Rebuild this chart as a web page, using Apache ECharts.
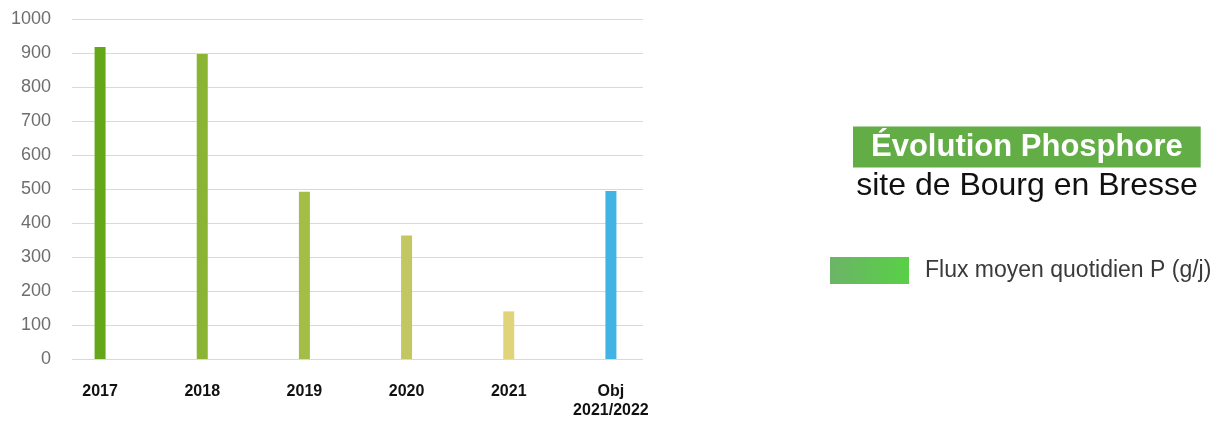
<!DOCTYPE html>
<html><head><meta charset="utf-8">
<script src="https://cdn.jsdelivr.net/npm/echarts@6/dist/echarts.min.js"></script>
<style>html,body{margin:0;padding:0;background:#fff}#c{width:1224px;height:428px}</style>
</head><body><div id="c"></div>
<script>
const categories = ['2017', '2018', '2019', '2020', '2021', 'Obj\n2021/2022'];
const values = [918, 897, 492, 363, 140, 494];
const barColors = ['#66a61a', '#8ab431', '#a4bd46', '#c3c761', '#e0d37a', '#41b3e5'];
const yTicks = [0, 100, 200, 300, 400, 500, 600, 700, 800, 900, 1000];
const seriesName = 'Flux moyen quotidien P (g/j)';
const titleText = 'Évolution Phosphore';
const subtitleText = 'site de Bourg en Bresse';

const chart = echarts.init(document.getElementById('c'));
chart.setOption({
  animation: false,
  backgroundColor: '#fff',
  title: [
    { text: titleText, left: 853, top: 127,
      backgroundColor: '#62ad45', padding: [5, 18, 5, 18],
      textStyle: { color: '#fff', fontSize: 31, fontWeight: 'bold', fontFamily: 'Liberation Sans', lineHeight: 30 } },
    { text: subtitleText, left: 1027, top: 169, textAlign: 'center', padding: 0,
      textStyle: { color: '#111', fontSize: 32, fontWeight: 'normal', fontFamily: 'Liberation Sans', lineHeight: 34 } }
  ],
  legend: {
    left: 830, top: 257, padding: 0, itemWidth: 79, itemHeight: 27,
    icon: 'rect',
    data: [seriesName],
    textStyle: { fontSize: 23, color: '#3a3a3a', fontFamily: 'Liberation Sans', padding: [0, 0, 0, 11] }
  },
  grid: [
    { left: 49, right: 1224 - 662, top: 19, bottom: 428 - 359, containLabel: false },
    { left: 72, right: 1224 - 643, top: 19, bottom: 428 - 359, containLabel: false }
  ],
  xAxis: [
    { type: 'category', gridIndex: 0, data: categories,
      axisLine: { show: false }, axisTick: { show: false },
      axisLabel: { interval: 0, margin: 23, color: '#111', fontSize: 16, fontWeight: 'bold',
        fontFamily: 'Liberation Sans', lineHeight: 19 } },
    { type: 'value', gridIndex: 1, min: 0, max: 1, show: false }
  ],
  yAxis: [
    { type: 'value', gridIndex: 0, min: 0, max: 1000, interval: 100, show: false },
    { type: 'value', gridIndex: 1, min: yTicks[0], max: yTicks[yTicks.length - 1], interval: 100,
      axisLine: { show: false }, axisTick: { show: false },
      splitLine: { lineStyle: { color: '#d9d9d9', width: 1 } },
      axisLabel: { margin: 21, color: '#6e6e6e', fontSize: 18, fontFamily: 'Liberation Sans',
        formatter: v => String(v) } }
  ],
  series: [{
    name: seriesName, type: 'bar', xAxisIndex: 0, yAxisIndex: 0, barWidth: 11, z: 3,
    itemStyle: { color: new echarts.graphic.LinearGradient(0, 0, 1, 0, [
      { offset: 0, color: '#6cb467' }, { offset: 1, color: '#58d046' }]) },
    data: values.map((v, i) => ({ value: v, itemStyle: { color: barColors[i] } }))
  }]
});
</script></body></html>
